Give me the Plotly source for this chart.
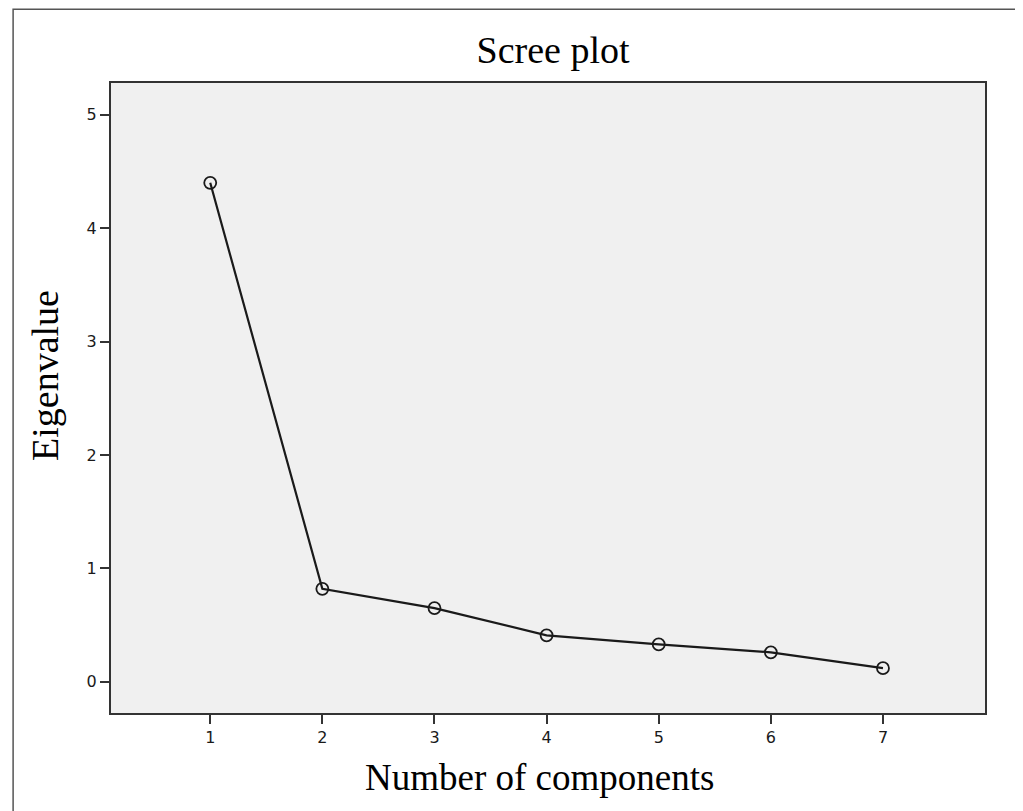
import plotly.graph_objects as go

components = [1, 2, 3, 4, 5, 6, 7]
eigenvalues = [4.40, 0.82, 0.65, 0.41, 0.33, 0.26, 0.12]
x_ticks = [1, 2, 3, 4, 5, 6, 7]
y_ticks = [0, 1, 2, 3, 4, 5]

fig = go.Figure()
fig.add_trace(go.Scatter(
    x=components, y=eigenvalues, mode="lines+markers",
    line=dict(color="#1a1a1a", width=2.2),
    marker=dict(symbol="circle-open", size=12, color="#1a1a1a", line=dict(width=1.8)),
    showlegend=False, hoverinfo="x+y",
))

# outer frame
fig.add_shape(type="rect", xref="paper", yref="paper",
              x0=-0.112, x1=1.039, y0=-0.2, y1=1.117,
              line=dict(color="#555555", width=1.5), layer="below")

serif = dict(family="Liberation Serif", size=38, color="black")
fig.add_annotation(text="Number of components", xref="paper", yref="paper",
                   x=0.49, y=-0.103, xanchor="center", yanchor="middle",
                   showarrow=False, font=dict(family="Liberation Serif", size=37, color="black"))
fig.add_annotation(text="Eigenvalue", xref="paper", yref="paper", textangle=-90,
                   x=-0.0755, y=0.535, xanchor="center", yanchor="middle",
                   showarrow=False, font=serif)

fig.update_layout(
    width=1015, height=803,
    margin=dict(l=103, r=38, t=75, b=98),
    paper_bgcolor="white", plot_bgcolor="#f0f0f0",
    title=dict(text="Scree plot", x=0.537, xanchor="center", y=0.948, yanchor="middle",
               font=serif),
    xaxis=dict(range=[0.115, 7.91], tickvals=x_ticks, ticks="outside", ticklen=9,
               tickwidth=2, tickcolor="#333", showgrid=False, zeroline=False,
               showline=True, linecolor="#333", linewidth=2, mirror=True,
               tickfont=dict(family="DejaVu Sans", size=16, color="#1a1a1a")),
    yaxis=dict(range=[-0.275, 5.28], tickvals=y_ticks, ticks="outside", ticklen=9,
               tickwidth=2, tickcolor="#333", showgrid=False, zeroline=False,
               showline=True, linecolor="#333", linewidth=2, mirror=True,
               tickfont=dict(family="DejaVu Sans", size=16, color="#1a1a1a")),
)

fig.write_html("out.html")
